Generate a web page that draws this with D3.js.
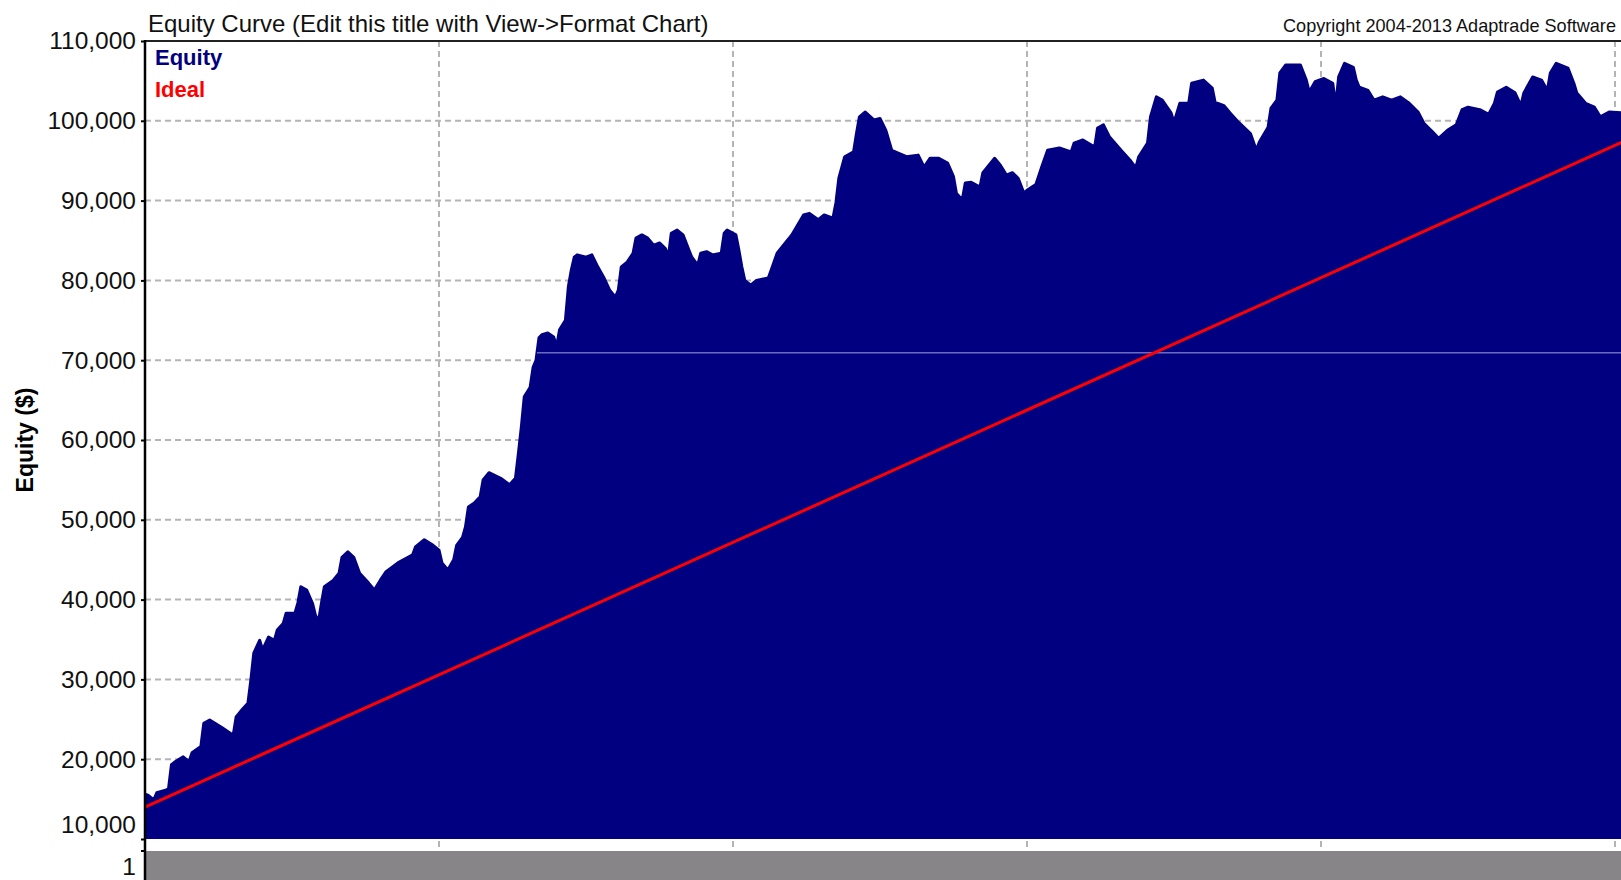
<!DOCTYPE html>
<html>
<head>
<meta charset="utf-8">
<script src="https://d3js.org/d3.v7.min.js"></script>
<style>
body { margin: 0; background: #fff; overflow: hidden; }
svg { display: block; font-family: "Liberation Sans", Arial, sans-serif; }
.grid line { stroke: #b4b4b4; stroke-width: 2; stroke-dasharray: 6,4; }
.yaxis text { font-size: 24.5px; fill: #111; }
.yaxis line { stroke: #000; stroke-width: 2; }
</style>
</head>
<body>
<svg width="1621" height="880"></svg>
<script>
// trade number / closed equity
var trades = [0,1,3,4,7,8,9,10,13,15,16,19,20,22,26,30,31,33,35,36,37,39,40,42,44,45,47,48,51,52,53,55,57,58,59,60,61,64,66,67,69,71,73,76,78,80,82,86,89,91,92,95,98,100,101,103,105,106,108,109,110,112,114,115,117,121,124,126,127,128,129,131,132,133,134,135,137,139,140,141,143,144,145,146,147,150,152,154,156,158,160,161,162,164,166,167,169,171,173,175,177,178,179,181,183,185,186,188,189,191,193,196,197,198,201,202,203,204,206,208,212,213,215,218,220,224,226,229,231,234,235,236,238,241,242,243,245,248,250,252,254,259,263,265,267,270,273,275,276,278,279,281,284,285,289,291,293,295,297,299,300,303,305,307,311,315,316,319,323,324,326,328,332,335,337,338,341,342,344,346,349,350,352,355,356,360,363,364,367,369,372,376,378,379,382,383,385,386,388,393,395,396,398,401,404,405,406,408,411,412,413,416,418,421,424,427,430,433,435,438,440,443,446,448,450,454,457,459,460,463,466,468,469,472,475,477,478,480,484,486,487,490,493,495,498,502,505];
var equity = [15600,15500,14900,15800,16100,16300,19300,19600,20300,19700,20800,21600,24500,24900,24000,23000,25300,26200,27000,29900,33300,34900,33700,35300,34900,36200,37000,38300,38300,39600,41600,41200,39500,38000,37300,39500,41600,42400,43300,45300,46000,45300,43300,42100,41200,42400,43500,44600,45200,45600,46600,47500,46800,46200,44600,43700,45000,46800,47800,49100,51600,52100,52900,55000,55900,55200,54400,55200,58300,61600,65400,66600,69100,70000,72800,73200,73400,72900,71700,73800,75000,79200,81300,82900,83200,82900,83200,81700,80400,78800,77900,78800,81700,82300,83400,85300,85700,85300,84400,84700,84000,82900,85900,86300,85700,83800,82900,81900,83400,83600,83200,83400,85900,86300,85700,83800,81700,80000,79400,80000,80300,81300,83400,84800,85700,88200,88400,87600,88200,87800,89700,92800,95500,96100,98400,100500,101100,100100,100300,98800,96300,95500,95700,94200,95300,95300,94700,93000,90900,90100,92200,92300,91700,93500,95300,94400,93200,93500,92800,90900,91300,92000,94200,96300,96600,96100,97200,97600,96700,99100,99500,98000,96300,95100,94100,95500,97200,100500,103000,102600,101000,99800,102200,102200,104700,105100,104100,102300,101900,101000,99800,98400,96300,97300,99200,101600,102600,106000,107000,107000,105100,103600,104900,105300,104700,101900,105500,107200,106700,105100,104200,103800,102600,103000,102600,103000,102200,101100,99700,98600,97800,98800,99500,101400,101700,101400,100800,102200,103600,104200,103500,101900,103500,105500,105100,103800,106000,107200,106600,104700,103500,102200,101700,100500,101100,101000,101200];
var idealTrades = [0, 505];
var idealEquity = [14000, 97750];
var yTicks = [10000, 20000, 30000, 40000, 50000, 60000, 70000, 80000, 90000, 100000, 110000];
var xGrid = [100, 200, 300, 400, 500];
var seamLevel = 70920;

var svg = d3.select("svg");
var W = 1621, H = 880;
var left = 145, plotTop = 41, plotBottom = 839, panelTop = 851;

var x = d3.scaleLinear().domain([0, 505]).range([left, left + 505 * 2.94]);
var y = d3.scaleLinear().domain([10000, 110000]).range([plotBottom, plotTop]);

var data = trades.map(function(t, i) { return {t: t, v: equity[i]}; });
var ideal = idealTrades.map(function(t, i) { return {t: t, v: idealEquity[i]}; });

// lower panel
svg.append("rect")
  .attr("x", left).attr("y", panelTop)
  .attr("width", W - left).attr("height", H - panelTop)
  .attr("fill", "#878587");

// gridlines
var grid = svg.append("g").attr("class", "grid");
grid.selectAll("line.h").data(yTicks.filter(function(d) { return d > 10000 && d < 110000; }))
  .enter().append("line")
  .attr("x1", left).attr("x2", W)
  .attr("y1", function(d) { return y(d); }).attr("y2", function(d) { return y(d); });
grid.selectAll("line.v").data(xGrid)
  .enter().append("line")
  .attr("x1", function(d) { return x(d); }).attr("x2", function(d) { return x(d); })
  .attr("y1", plotTop).attr("y2", panelTop);

// equity area
var area = d3.area()
  .x(function(d) { return x(d.t); })
  .y0(y(10000))
  .y1(function(d) { return y(d.v); });
svg.append("path").datum(data)
  .attr("d", area)
  .attr("fill", "#000080");
svg.append("path").datum(data)
  .attr("d", d3.line().x(function(d) { return x(d.t); }).y(function(d) { return y(d.v); }))
  .attr("fill", "none").attr("stroke", "#000080").attr("stroke-width", 3)
  .attr("stroke-linejoin", "round");

// faint seam inside the fill
var firstAbove = 0;
for (var i = 1; i < data.length; i++) {
  if (data[i].v >= seamLevel) { firstAbove = i; break; }
}
var a = data[firstAbove - 1], b = data[firstAbove];
var seamT = a.t + (seamLevel - a.v) / (b.v - a.v) * (b.t - a.t);
svg.append("line")
  .attr("x1", x(seamT)).attr("x2", W)
  .attr("y1", y(seamLevel)).attr("y2", y(seamLevel))
  .attr("stroke", "#a0a0e0").attr("stroke-width", 1);

// ideal line
svg.append("path").datum(ideal)
  .attr("d", d3.line().x(function(d) { return x(d.t); }).y(function(d) { return y(d.v); }))
  .attr("fill", "none").attr("stroke", "#ff0000").attr("stroke-width", 3);

// top border
svg.append("line")
  .attr("x1", left).attr("x2", W)
  .attr("y1", plotTop).attr("y2", plotTop)
  .attr("stroke", "#222").attr("stroke-width", 2);

// y axis
var yAxis = svg.append("g")
  .attr("class", "yaxis")
  .attr("transform", "translate(" + left + ",0)")
  .call(d3.axisLeft(y).tickValues(yTicks).tickFormat(d3.format(",")).tickSize(4).tickPadding(5));
yAxis.select(".domain").remove();
yAxis.selectAll(".tick text")
  .attr("font-family", null).attr("font-size", null)
  .filter(function(d) { return d === 10000; })
  .attr("transform", "translate(0,-14)");
yAxis.append("line")
  .attr("x1", -4).attr("x2", 0)
  .attr("y1", panelTop).attr("y2", panelTop);
yAxis.append("text")
  .attr("x", -9).attr("y", 866).attr("dy", "0.35em")
  .attr("text-anchor", "end").attr("fill", "#111")
  .text("1");

svg.append("line")
  .attr("x1", left).attr("x2", left)
  .attr("y1", plotTop - 1).attr("y2", H)
  .attr("stroke", "#000").attr("stroke-width", 2.5);

// titles
svg.append("text")
  .attr("x", 148).attr("y", 32)
  .attr("font-size", 24).attr("fill", "#111")
  .text("Equity Curve (Edit this title with View->Format Chart)");
svg.append("text")
  .attr("x", 1283).attr("y", 32)
  .attr("font-size", 18.1).attr("fill", "#111")
  .text("Copyright 2004-2013 Adaptrade Software");

// legend
svg.append("text")
  .attr("x", 155).attr("y", 65)
  .attr("font-size", 22).attr("font-weight", "bold").attr("fill", "#000080")
  .text("Equity");
svg.append("text")
  .attr("x", 155).attr("y", 97)
  .attr("font-size", 22).attr("font-weight", "bold").attr("fill", "#ff0000")
  .text("Ideal");

// y label
svg.append("text")
  .attr("transform", "translate(33,440) rotate(-90)")
  .attr("text-anchor", "middle")
  .attr("font-size", 23).attr("font-weight", "bold").attr("fill", "#000")
  .text("Equity ($)");
</script>
</body>
</html>
